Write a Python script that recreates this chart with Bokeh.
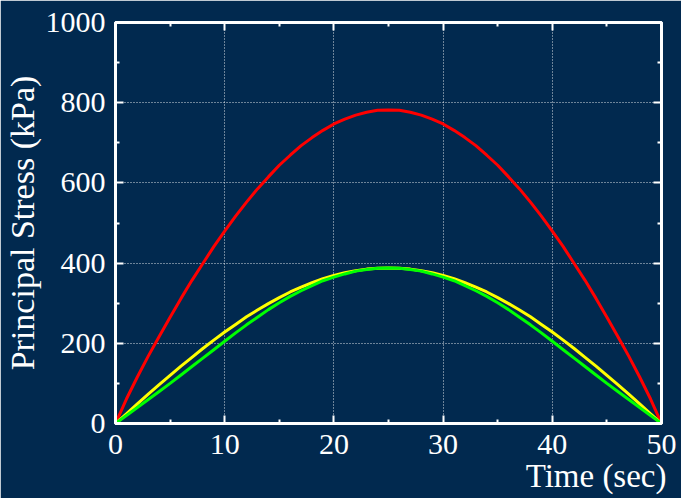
from bokeh.plotting import figure
from bokeh.models import LinearAxis, Range1d, FixedTicker, CustomJSTickFormatter, Title
from bokeh.embed import file_html
from bokeh.resources import INLINE

# ---- data ----
time_s = list(range(0, 51))
sigma_red = [0, 61, 116, 168, 217, 265, 312, 357, 399, 441, 480, 517, 552, 585, 615, 644,
             669, 693, 713, 731, 747, 759, 769, 776, 781, 782,
             781, 776, 769, 759, 747, 731, 713, 693, 669, 644, 615, 585, 552, 517, 480,
             441, 399, 357, 312, 265, 217, 168, 116, 61, 0]
sigma_yellow = [0, 24, 49, 73, 97, 120, 143, 165, 187, 208, 228, 247, 266, 283, 299, 314,
                328, 340, 351, 361, 369, 376, 381, 385, 387, 388,
                387, 385, 381, 376, 369, 361, 351, 340, 328, 314, 299, 283, 266, 247, 228,
                208, 187, 165, 143, 120, 97, 73, 49, 24, 0]
sigma_green = [0, 20, 40, 60, 80, 100, 121, 142, 163, 184, 205, 226, 246, 265, 284, 301,
               317, 331, 344, 356, 365, 373, 380, 384, 387, 388,
               387, 384, 380, 373, 365, 356, 344, 331, 317, 301, 284, 265, 246, 226, 205,
               184, 163, 142, 121, 100, 80, 60, 40, 20, 0]
x_ticks = [0, 10, 20, 30, 40, 50]
y_ticks = [0, 200, 400, 600, 800, 1000]
x_label = "Time (sec)"
y_label = "Principal Stress (kPa)"

BG = "#01294f"
FONT = "Liberation Serif"

p = figure(width=681, height=498, output_backend="svg", toolbar_location=None,
           x_range=Range1d(x_ticks[0], x_ticks[-1]), y_range=Range1d(y_ticks[0], y_ticks[-1]),
           background_fill_color=BG, border_fill_color=BG,
           min_border_left=115, min_border_right=20, min_border_top=22, min_border_bottom=75)
p.outline_line_color = "white"
p.outline_line_width = 3

x_minor = [(a + b) / 2 for a, b in zip(x_ticks[:-1], x_ticks[1:])]
y_minor = [(a + b) / 2 for a, b in zip(y_ticks[:-1], y_ticks[1:])]
xticker = FixedTicker(ticks=x_ticks, minor_ticks=x_minor)
yticker = FixedTicker(ticks=y_ticks, minor_ticks=y_minor)


def style(ax, labels=True):
    ax.axis_line_color = "white"
    ax.axis_line_width = 3
    ax.major_tick_in = 8
    ax.major_tick_out = 0
    ax.minor_tick_in = 4
    ax.minor_tick_out = 0
    ax.major_tick_line_color = "white"
    ax.major_tick_line_width = 2
    ax.minor_tick_line_color = "white"
    ax.minor_tick_line_width = 2
    ax.major_label_text_font = FONT
    ax.major_label_text_color = "white"
    if labels:
        ax.major_label_text_font_size = "30px"
    else:
        ax.major_label_text_font_size = "0px"
        ax.major_label_standoff = 0
        ax.formatter = CustomJSTickFormatter(code="return '';")


xa = p.xaxis[0]
ya = p.yaxis[0]
xa.ticker = xticker
ya.ticker = yticker
style(xa)
style(ya)
xa.major_label_standoff = 11
ya.major_label_standoff = 10

ya.axis_label = y_label
ya.axis_label_text_font = FONT
ya.axis_label_text_font_size = "34px"
ya.axis_label_text_font_style = "normal"
ya.axis_label_text_color = "white"
ya.axis_label_standoff = 2

p.add_layout(Title(text=x_label, align="right", vertical_align="bottom",
                   text_font=FONT, text_font_size="33px",
                   text_font_style="normal", text_color="white", standoff=-2, offset=-5),
             "below")

top = LinearAxis(ticker=xticker)
right = LinearAxis(ticker=yticker)
style(top, False)
style(right, False)
p.add_layout(top, "above")
p.add_layout(right, "right")

for g, t in ((p.xgrid[0], xticker), (p.ygrid[0], yticker)):
    g.ticker = t
    g.grid_line_color = "white"
    g.grid_line_alpha = 0.85
    g.grid_line_width = 1
    g.grid_line_dash = "1 2"

p.line(time_s, sigma_red, line_color="#ff0000", line_width=3)
p.line(time_s, sigma_yellow, line_color="#ffff00", line_width=3)
p.line(time_s, sigma_green, line_color="#00ff00", line_width=3)

open("out.html", "w").write(file_html(p, INLINE))
